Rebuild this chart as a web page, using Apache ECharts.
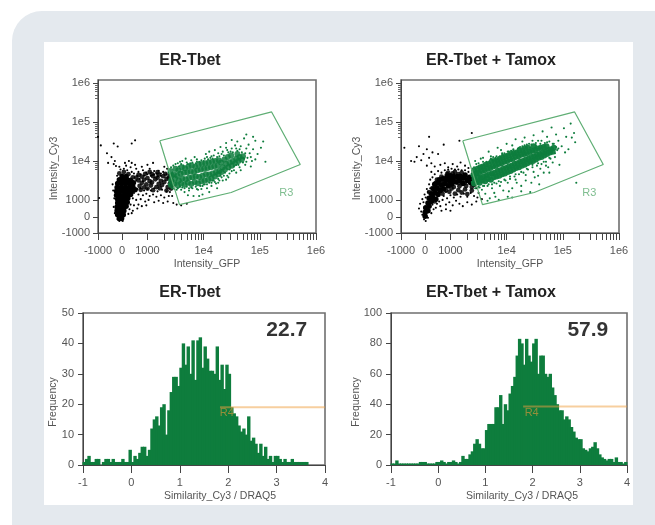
<!DOCTYPE html>
<html><head><meta charset="utf-8">
<script src="https://cdn.jsdelivr.net/npm/echarts@6/dist/echarts.min.js"></script>
<style>
html,body{margin:0;padding:0;background:#fff;width:655px;height:525px;overflow:hidden}
#bg{position:absolute;left:12px;top:11px;width:660px;height:530px;background:#e4e9ee;border-top-left-radius:30px}
#panel{position:absolute;left:44px;top:42px;width:589px;height:463px;background:#fff}
#c{position:absolute;left:0;top:0;width:655px;height:525px;filter:blur(0.4px)}
</style></head><body>
<div id="bg"></div><div id="panel"></div><div id="c"></div>
<script>
// Axis positions are in decades of the instrument's display scale (1000 = 3, 1e4 = 4 ...)
const scatterTickPos=[2.12,2.55,3,4,5,6];
const scatterTickLabels=['-1000','0','1000','1e4','1e5','1e6'];
const logMinor=[.30,.48,.60,.70,.78,.85,.90,.95];
const yMajorPos=[2.15,2.55,3,4,5,6];
const titles=['ER-Tbet','ER-Tbet + Tamox','ER-Tbet','ER-Tbet + Tamox'];
const gateR3=[[3.22,4.52],[5.21,5.26],[5.72,3.91],[4.49,3.19],[3.57,2.88],[3.22,4.52]];

const blackCoreA=[[2.50,2.52],[2.54,2.52],[2.47,2.62],[2.52,2.62],[2.57,2.62],[2.46,2.72],[2.52,2.72],[2.58,2.72],[2.46,2.82],[2.52,2.82],[2.58,2.82],[2.62,2.84],[2.47,2.92],[2.53,2.92],[2.60,2.92],[2.64,2.94],[2.47,3.02],[2.53,3.02],[2.59,3.02],[2.65,3.04],[2.45,3.12],[2.51,3.12],[2.58,3.12],[2.64,3.12],[2.70,3.14],[2.45,3.22],[2.52,3.22],[2.58,3.22],[2.65,3.22],[2.72,3.24],[2.78,3.26],[2.46,3.32],[2.53,3.32],[2.60,3.32],[2.67,3.32],[2.74,3.34],[2.47,3.42],[2.54,3.42],[2.61,3.42],[2.68,3.42],[2.75,3.44],[2.50,3.52],[2.57,3.52],[2.64,3.52],[2.70,3.50],[2.55,3.60],[2.62,3.60]];
const blackBandA=[[2.88,3.26],[3.00,3.29],[3.10,3.25],[3.22,3.30],[3.34,3.24],[3.42,3.29],[2.86,3.36],[2.94,3.32],[3.06,3.37],[3.16,3.33],[3.26,3.38],[3.36,3.33],[3.44,3.37],[2.90,3.44],[2.98,3.40],[3.08,3.45],[3.20,3.41],[3.30,3.46],[3.40,3.42],[2.84,3.50],[2.94,3.52],[3.04,3.48],[3.14,3.53],[3.24,3.49],[3.34,3.54],[3.43,3.49],[2.80,3.57],[2.90,3.60],[3.00,3.56],[3.10,3.61],[3.18,3.57],[3.28,3.61],[3.38,3.57],[2.84,3.64],[2.96,3.67],[3.08,3.66],[3.20,3.65],[3.32,3.67],[3.40,3.63],[3.04,3.72],[3.18,3.71],[2.50,3.68],[2.58,3.72],[2.66,3.66],[2.74,3.58]];
const blackDotsA=[[2.12,4.62],[2.17,4.40],[2.40,4.45],[2.47,4.37],[2.78,4.53],[2.72,4.45],[2.28,4.20],[2.36,4.10],[2.30,3.95],[2.42,4.00],[2.50,3.85],[2.60,3.95],[2.67,4.00],[2.72,3.95],[2.80,3.80],[2.90,3.85],[3.00,3.90],[3.10,3.95],[3.20,3.75],[3.30,3.85],[3.35,3.80],[2.14,3.05],[2.40,3.92],[2.44,3.87],[2.62,3.88],[2.70,3.84],[2.78,3.90],[2.84,3.72],[2.92,3.76],[2.98,3.70],[3.04,3.80],[3.12,3.74],[3.16,3.68],[3.24,3.68],[3.28,3.72],[3.34,3.66],[2.82,3.62],[2.88,3.66],[2.94,3.62],[3.00,3.66],[3.06,3.62],[3.12,3.66],[3.18,3.60],[3.24,3.62],[2.80,3.50],[2.86,3.54],[2.92,3.48],[2.82,3.28],[2.88,3.30],[2.94,3.24],[3.00,3.28],[3.06,3.24],[3.12,3.30],[3.18,3.22],[3.26,3.26],[3.34,3.22],[3.40,3.20],[2.76,3.18],[2.84,3.14],[2.92,3.12],[2.98,3.16],[3.04,3.10],[3.10,3.14],[3.16,3.08],[3.24,3.12],[3.30,3.06],[3.38,3.10],[2.74,3.04],[2.80,3.00],[2.88,3.02],[2.96,2.96],[3.02,3.00],[3.12,2.94],[3.20,2.98],[3.28,2.92],[3.36,2.96],[3.46,2.92],[3.52,2.88],[3.60,2.86],[3.70,2.90],[3.44,3.10],[2.70,2.88],[2.76,2.86],[2.84,2.88],[2.90,2.84],[2.98,2.86],[2.68,2.76],[2.74,2.72],[2.82,2.78],[2.66,2.64],[2.72,2.66],[2.42,2.66],[2.40,2.82],[2.41,3.04],[2.39,3.24],[2.38,3.40],[2.46,3.62],[2.52,3.78],[2.58,3.80],[2.64,3.76],[2.72,3.72],[2.76,3.68],[2.50,2.46],[2.56,2.46],[2.47,2.50]];
const greenCoreA=[[3.42,3.38],[3.42,3.50],[3.43,3.63],[3.41,3.74],[3.48,3.42],[3.49,3.55],[3.47,3.66],[3.50,3.80],[3.54,3.37],[3.56,3.50],[3.53,3.62],[3.55,3.76],[3.60,3.42],[3.62,3.55],[3.59,3.68],[3.61,3.84],[3.66,3.39],[3.68,3.53],[3.65,3.70],[3.67,3.81],[3.72,3.44],[3.74,3.57],[3.71,3.71],[3.73,3.86],[3.78,3.41],[3.80,3.58],[3.77,3.73],[3.79,3.88],[3.84,3.46],[3.86,3.60],[3.83,3.72],[3.85,3.85],[3.90,3.43],[3.92,3.59],[3.89,3.76],[3.91,3.90],[3.96,3.48],[3.98,3.62],[3.95,3.78],[3.97,3.92],[4.02,3.50],[4.04,3.66],[4.01,3.80],[4.03,3.94],[4.08,3.52],[4.10,3.65],[4.07,3.82],[4.09,3.96],[4.14,3.55],[4.16,3.68],[4.13,3.84],[4.15,3.98],[4.20,3.60],[4.22,3.72],[4.19,3.86],[4.21,4.00],[4.26,3.66],[4.28,3.74],[4.25,3.88],[4.27,4.02],[4.32,3.72],[4.34,3.84],[4.31,3.96],[4.38,3.78],[4.40,3.92],[4.37,4.04],[4.44,3.84],[4.46,3.96],[4.43,4.10],[4.50,3.88],[4.52,4.00],[4.49,4.14],[4.56,3.94],[4.58,4.06],[4.62,4.00],[4.64,4.10],[4.60,4.18],[4.68,4.04],[4.70,4.12]];
const greenDotsA=[[3.38,3.40],[3.40,3.52],[3.38,3.70],[3.42,3.84],[3.45,3.30],[3.48,3.28],[3.50,3.44],[3.50,3.92],[3.54,3.30],[3.56,3.86],[3.58,3.98],[3.62,3.32],[3.64,3.88],[3.66,3.20],[3.68,4.06],[3.70,3.34],[3.72,3.92],[3.74,3.24],[3.76,3.94],[3.78,3.32],[3.80,3.96],[3.82,3.10],[3.84,4.10],[3.86,3.34],[3.88,3.98],[3.90,3.26],[3.92,3.98],[3.94,3.36],[3.96,4.02],[3.98,3.14],[4.00,4.00],[4.02,3.40],[4.04,4.18],[4.06,3.30],[4.08,4.04],[4.10,3.44],[4.12,4.08],[4.14,3.36],[4.16,4.06],[4.18,3.50],[4.20,4.28],[4.22,3.42],[4.24,4.10],[4.26,3.54],[4.28,4.12],[4.30,3.62],[4.32,4.18],[4.34,3.50],[4.36,4.14],[4.38,3.70],[4.40,4.34],[4.42,3.62],[4.44,4.22],[4.46,3.78],[4.48,4.24],[4.50,3.74],[4.52,4.22],[4.54,3.86],[4.56,4.40],[4.58,3.90],[4.60,4.26],[4.62,3.90],[4.64,4.30],[4.66,3.76],[4.68,4.22],[4.70,3.96],[4.72,4.58],[4.74,4.20],[4.78,4.08],[4.80,4.42],[4.84,3.86],[4.88,4.30],[4.92,4.52],[4.96,4.18],[5.02,4.34],[5.06,4.50],[5.10,3.98],[4.72,4.06],[4.76,3.98],[4.00,3.40],[4.14,3.44],[3.74,3.30],[3.60,3.26],[4.20,3.46],[4.28,3.50],[4.32,3.58],[4.40,3.52],[3.96,3.28],[4.10,3.20],[3.92,3.10],[3.72,3.12],[4.60,4.50],[4.50,4.54],[4.76,4.68],[4.40,4.46],[4.88,4.62],[4.30,4.36],[4.10,4.24],[3.88,4.04],[3.62,4.00],[4.24,3.30],[4.44,3.58],[4.58,3.70],[4.84,4.10],[4.92,4.04],[3.44,3.30],[3.52,3.26],[3.58,3.34],[3.66,3.30],[3.80,3.30],[3.88,3.28],[3.46,3.88],[3.54,3.94],[3.60,3.92],[3.70,3.96],[3.78,4.02],[3.86,3.94],[3.94,3.96],[4.02,4.06],[4.06,4.10],[4.14,4.12],[4.18,4.14],[4.26,4.20],[4.34,4.24],[4.42,4.28],[4.50,4.32],[4.58,4.32],[4.66,4.38],[4.76,4.32],[4.82,4.20],[4.86,4.00],[4.74,3.90],[4.64,3.84],[4.54,3.76],[4.46,3.68],[4.36,3.62],[4.26,3.44],[4.16,3.50],[4.06,3.40],[3.98,3.36]];

const blackCoreB=[[2.55,2.58],[2.55,2.68],[2.60,2.72],[2.56,2.80],[2.62,2.84],[2.60,2.92],[2.66,2.96],[2.62,3.04],[2.68,3.08],[2.74,3.02],[2.66,3.16],[2.72,3.18],[2.78,3.14],[2.70,3.28],[2.76,3.30],[2.82,3.24],[2.88,3.28],[2.72,3.40],[2.78,3.44],[2.84,3.38],[2.90,3.42],[2.96,3.36],[3.02,3.40],[2.80,3.52],[2.86,3.54],[2.92,3.52],[2.98,3.50],[3.04,3.52],[3.10,3.46],[3.16,3.50],[3.22,3.42],[2.94,3.60],[3.00,3.62],[3.06,3.60],[3.12,3.60],[3.18,3.60],[3.24,3.56],[3.30,3.50],[3.36,3.44],[3.42,3.40],[3.26,3.64],[3.34,3.58],[3.40,3.50],[3.44,3.46]];
const blackBandB=[[2.76,3.20],[2.86,3.16],[2.98,3.21],[3.08,3.16],[3.20,3.19],[3.30,3.15],[2.80,3.28],[2.92,3.25],[3.02,3.29],[3.14,3.25],[3.26,3.27],[3.38,3.24],[2.76,3.36],[2.86,3.33],[2.96,3.37],[3.06,3.33],[3.16,3.35],[3.28,3.36],[3.38,3.33],[2.74,3.44],[2.84,3.46],[2.94,3.45],[3.04,3.44],[3.14,3.43],[3.26,3.44],[3.36,3.44],[2.76,3.52],[2.88,3.56],[2.98,3.53],[3.08,3.52],[3.20,3.51],[3.32,3.52],[2.84,3.60],[2.94,3.66],[3.04,3.68],[3.14,3.66],[3.26,3.59],[2.96,3.70],[3.08,3.72],[3.20,3.70],[2.62,3.20],[2.68,3.30],[2.66,3.02],[2.72,2.96]];
const blackDotsB=[[2.08,4.80],[2.62,4.62],[3.38,4.72],[2.88,4.42],[3.16,4.52],[2.44,4.38],[2.58,4.30],[2.52,4.18],[2.68,4.22],[2.18,4.34],[2.40,4.10],[2.48,4.02],[2.62,4.08],[2.78,4.18],[2.30,4.00],[2.36,3.98],[2.58,3.88],[2.66,3.94],[2.72,3.86],[2.82,3.90],[2.90,3.94],[2.96,3.84],[3.04,3.92],[3.12,3.86],[3.18,3.96],[3.26,3.88],[3.32,3.82],[2.66,3.72],[2.72,3.66],[2.78,3.74],[2.84,3.70],[2.90,3.76],[2.96,3.78],[3.02,3.80],[3.08,3.78],[3.14,3.78],[3.20,3.76],[3.26,3.76],[3.32,3.72],[3.38,3.68],[2.64,3.52],[2.68,3.58],[2.62,3.40],[2.58,3.28],[2.54,3.14],[2.50,3.02],[2.46,2.90],[2.44,2.78],[2.52,2.94],[2.56,3.06],[2.60,3.20],[2.64,3.30],[2.48,2.70],[2.50,2.62],[2.53,2.50],[2.56,2.46],[2.60,2.54],[2.66,2.66],[2.70,2.76],[2.68,2.88],[2.76,2.90],[2.74,2.80],[2.82,2.84],[2.80,2.96],[2.86,3.00],[2.92,2.88],[2.98,2.94],[3.04,2.86],[3.10,2.98],[3.16,2.90],[3.22,2.84],[3.30,2.94],[3.38,2.88],[3.46,2.96],[2.88,3.10],[2.94,3.04],[3.00,3.12],[3.06,3.06],[3.12,3.14],[3.18,3.08],[3.24,3.16],[3.30,3.08],[3.36,3.18],[3.42,3.10],[3.48,3.06],[2.92,3.20],[3.50,3.18],[3.46,3.30],[2.84,2.72],[2.92,2.76],[3.00,2.72],[3.56,3.02]];
const greenCoreB=[[3.42,3.42],[3.43,3.54],[3.41,3.64],[3.42,3.76],[3.47,3.46],[3.49,3.58],[3.46,3.68],[3.48,3.80],[3.52,3.44],[3.54,3.56],[3.51,3.70],[3.53,3.84],[3.57,3.50],[3.59,3.60],[3.56,3.74],[3.58,3.86],[3.62,3.48],[3.64,3.62],[3.61,3.76],[3.63,3.90],[3.67,3.54],[3.69,3.66],[3.66,3.80],[3.68,3.92],[3.72,3.52],[3.74,3.68],[3.71,3.82],[3.73,3.98],[3.77,3.58],[3.79,3.70],[3.76,3.86],[3.78,4.00],[3.82,3.60],[3.84,3.74],[3.81,3.88],[3.83,4.02],[3.87,3.62],[3.89,3.76],[3.86,3.92],[3.88,4.06],[3.92,3.66],[3.94,3.80],[3.91,3.94],[3.93,4.08],[3.97,3.68],[3.99,3.82],[3.96,3.98],[3.98,4.12],[4.02,3.72],[4.04,3.86],[4.01,4.00],[4.03,4.14],[4.07,3.74],[4.09,3.88],[4.06,4.04],[4.08,4.18],[4.12,3.78],[4.14,3.92],[4.11,4.06],[4.13,4.20],[4.17,3.82],[4.19,3.94],[4.16,4.10],[4.18,4.22],[4.22,3.84],[4.24,3.98],[4.21,4.12],[4.23,4.26],[4.27,3.88],[4.29,4.00],[4.26,4.16],[4.28,4.28],[4.32,3.90],[4.34,4.04],[4.31,4.18],[4.33,4.32],[4.37,3.94],[4.39,4.06],[4.36,4.20],[4.38,4.34],[4.42,3.98],[4.44,4.10],[4.41,4.24],[4.47,4.00],[4.49,4.12],[4.46,4.26],[4.48,4.38],[4.52,4.04],[4.54,4.16],[4.51,4.28],[4.57,4.08],[4.59,4.18],[4.56,4.32],[4.62,4.10],[4.64,4.22],[4.61,4.34],[4.67,4.14],[4.69,4.24],[4.66,4.36],[4.72,4.18],[4.74,4.28],[4.71,4.38],[4.77,4.22],[4.79,4.30],[4.82,4.24],[4.84,4.34]];
const greenDotsB=[[3.38,3.46],[3.40,3.66],[3.42,3.84],[3.44,3.30],[3.46,3.92],[3.48,3.30],[3.50,3.94],[3.52,3.32],[3.54,4.06],[3.56,3.26],[3.58,3.98],[3.60,3.36],[3.62,3.16],[3.64,3.98],[3.66,3.36],[3.68,4.24],[3.70,3.04],[3.72,4.06],[3.74,3.40],[3.76,4.10],[3.78,3.18],[3.80,4.08],[3.82,3.42],[3.84,4.34],[3.86,3.00],[3.88,4.12],[3.90,3.46],[3.92,4.20],[3.94,3.24],[3.96,4.20],[3.98,3.50],[4.00,4.44],[4.02,3.08],[4.04,4.24],[4.06,3.54],[4.08,4.26],[4.10,3.30],[4.12,4.28],[4.14,3.60],[4.16,4.56],[4.18,3.44],[4.20,4.32],[4.22,3.66],[4.24,4.36],[4.26,3.36],[4.28,4.38],[4.30,3.70],[4.32,4.60],[4.34,3.50],[4.36,4.42],[4.38,3.78],[4.40,4.44],[4.42,3.20],[4.44,4.42],[4.46,3.84],[4.48,4.66],[4.50,3.58],[4.52,4.46],[4.54,3.88],[4.56,4.52],[4.58,3.40],[4.60,4.44],[4.62,3.92],[4.64,4.76],[4.66,3.70],[4.68,4.46],[4.70,3.98],[4.72,4.62],[4.74,3.84],[4.76,4.50],[4.78,4.06],[4.80,4.86],[4.82,3.96],[4.84,4.44],[4.86,4.10],[4.88,4.68],[4.90,4.28],[4.92,4.52],[4.94,3.90],[4.98,4.38],[5.02,4.84],[5.04,4.22],[5.06,4.62],[5.10,4.30],[5.14,4.96],[5.16,4.60],[5.20,4.72],[5.22,4.48],[4.88,4.36],[3.74,3.30],[3.88,3.36],[4.02,3.44],[4.16,3.52],[4.34,3.64],[4.48,3.72],[4.60,3.80],[4.70,3.88],[3.90,4.28],[4.10,4.40],[4.28,4.50],[4.46,4.52],[3.72,4.12],[3.58,4.08],[3.44,4.00],[4.26,3.22],[4.04,3.22],[3.80,3.08],[3.66,2.98],[4.10,3.06],[4.44,3.44],[4.56,3.62],[4.76,3.70],[5.24,3.44],[3.50,3.34],[3.58,3.36],[3.68,3.40],[3.78,3.44],[3.86,3.48],[3.96,3.52],[4.06,3.60],[4.16,3.66],[4.26,3.72],[4.36,3.80],[4.46,3.90],[4.56,3.94],[4.66,3.98],[4.76,4.08],[4.86,4.20],[4.92,4.32],[4.82,4.44],[4.72,4.48],[4.62,4.52],[4.52,4.40],[4.42,4.34],[4.32,4.40],[4.22,4.34],[4.12,4.30],[4.02,4.24],[3.92,4.16],[3.82,4.12],[3.74,4.04]];

const histBins=[-1,-.95,-.9,-.85,-.8,-.75,-.7,-.65,-.6,-.55,-.5,-.45,-.4,-.35,-.3,-.25,-.2,-.15,-.1,-.05,0,.05,.1,.15,.2,.25,.3,.35,.4,.45,.5,.55,.6,.65,.7,.75,.8,.85,.9,.95,1,1.05,1.1,1.15,1.2,1.25,1.3,1.35,1.4,1.45,1.5,1.55,1.6,1.65,1.7,1.75,1.8,1.85,1.9,1.95,2,2.05,2.1,2.15,2.2,2.25,2.3,2.35,2.4,2.45,2.5,2.55,2.6,2.65,2.7,2.75,2.8,2.85,2.9,2.95,3,3.05,3.1,3.15,3.2,3.25,3.3,3.35,3.4,3.45,3.5,3.55,3.6,3.65,3.7,3.75,3.8,3.85,3.9,3.95];
const histLeft=[1,2,3,1,1,2,2,0,1,2,2,1,2,1,1,1,2,1,1,5,1,3,2,4,6,6,3,5,12,15,16,13,19,20,10,18,24,29,29,26,32,40,33,39,30,41,28,41,42,32,39,35,31,31,30,39,28,33,25,33,30,19,17,16,13,11,12,10,16,8,9,7,4,7,3,6,2,3,1,3,3,2,1,2,1,1,2,1,1,1,1,1,1,0,0,0,0,0,0,0];
const histRight=[1,1,3,1,1,1,1,1,1,1,1,1,2,2,2,1,1,1,1,2,2,3,2,1,2,2,3,2,1,2,6,4,4,7,9,14,17,14,11,11,23,27,27,27,38,38,46,27,40,36,47,52,58,72,83,80,66,83,72,68,80,83,60,72,72,60,58,60,51,46,40,36,36,30,32,30,25,22,18,17,17,11,10,9,11,12,15,11,7,5,4,3,4,4,2,5,2,2,1,2];
const gateR4Left=[[1.83,19],[4,19]];
const gateR4Right=[[1.8,38.5],[4,38.5]];
const scoreLabels=['22.7','57.9'];

const GREY='#555',FRAME='#6f6f6f',GREEN='#0e7d3d',GATE='#5fae74';
const font='"Liberation Sans",Arial,sans-serif';
const grids=[
 {left:98,top:80,width:218,height:153},
 {left:401,top:80,width:218,height:153},
 {left:83,top:313,width:242,height:152},
 {left:391,top:313,width:236,height:152}
].map(g=>Object.assign(g,{show:true,backgroundColor:'transparent',borderColor:FRAME,borderWidth:1.6}));
const xAxes=[],yAxes=[],series=[];
const lbl={color:GREY,fontSize:11,fontFamily:font};
const nameStyle=pad=>({color:GREY,fontSize:10.5,fontFamily:font,padding:pad});
const xMinor=[];[3,4,5].forEach(d=>{xMinor.push(d);logMinor.forEach(m=>xMinor.push(d+m));});
const xTicks=[2.12,2.55].concat(xMinor,[6]);
const yMinor=[];[3,4,5].forEach(d=>logMinor.forEach(m=>{if(m>=(d==3?.78:.6))yMinor.push(d+m);}));

function scatterPanel(i,core,band,dots,green,gcore,gOpacity){
 xAxes.push({type:'value',gridIndex:i,position:'bottom',min:2.12,max:6,name:'Intensity_GFP',nameLocation:'middle',nameGap:26,nameTextStyle:nameStyle([0,0,0,0]),
  axisLine:{show:true,lineStyle:{color:'#444',width:1},onZero:false},splitLine:{show:false},
  axisTick:{show:true,length:7,lineStyle:{color:'#444'},customValues:xTicks},
  axisLabel:Object.assign({},lbl,{margin:12,customValues:scatterTickPos,formatter:v=>scatterTickLabels[scatterTickPos.indexOf(v)]})});
 const yi=yAxes.length;
 yAxes.push({type:'value',gridIndex:i,position:'left',min:2.15,max:6.08,name:'Intensity_Cy3',nameLocation:'middle',nameGap:38,nameMoveOverlap:false,nameTextStyle:nameStyle([0,24,0,0]),
  axisLine:{show:true,lineStyle:{color:'#444',width:1},onZero:false},splitLine:{show:false},
  axisTick:{show:true,length:5,lineStyle:{color:'#444'},customValues:yMajorPos},
  axisLabel:Object.assign({},lbl,{margin:8,customValues:yMajorPos,formatter:v=>scatterTickLabels[yMajorPos.indexOf(v)]})});
 yAxes.push({type:'value',gridIndex:i,position:'left',offset:0,min:2.15,max:6.08,axisLine:{show:false,onZero:false},splitLine:{show:false},axisLabel:{show:false},
  axisTick:{show:true,length:3,lineStyle:{color:'#666'},customValues:yMinor}});
 const sc=(d,size,color,op)=>series.push({type:'scatter',xAxisIndex:i,yAxisIndex:yi,data:d,symbolSize:size,itemStyle:{color,opacity:op},silent:true,animation:false});
 sc(core,5.5,'#000',1);
 sc(band,4.8,'#000',.85);
 sc(dots,2.1,'#000',1);
 sc(gcore,6,GREEN,gOpacity);
 sc(green,2.1,GREEN,1);
 series.push({type:'line',xAxisIndex:i,yAxisIndex:yi,data:gateR3,showSymbol:false,lineStyle:{color:GATE,width:1.2},silent:true,animation:false});
 series.push({type:'scatter',xAxisIndex:i,yAxisIndex:yi,data:[[5.47,3.19]],symbolSize:0,silent:true,animation:false,
  label:{show:true,formatter:'R3',position:'inside',color:GATE,fontSize:11,fontFamily:font}});
}
function histPanel(i,vals,ymax,step,gate,score,scoreX,r4Pos){
 xAxes.push({type:'value',gridIndex:i,position:'bottom',min:-1,max:4,interval:1,name:'Similarity_Cy3 / DRAQ5',nameLocation:'middle',nameGap:26,nameTextStyle:nameStyle(i==2?[0,0,0,32]:[0,0,0,26]),
  axisLine:{show:true,lineStyle:{color:'#444',width:1},onZero:false},splitLine:{show:false},
  axisTick:{show:true,length:8,lineStyle:{color:'#444'}},axisLabel:Object.assign({},lbl,{margin:12})});
 const yi=yAxes.length;
 yAxes.push({type:'value',gridIndex:i,position:'left',min:0,max:ymax,interval:step,name:'Frequency',nameLocation:'middle',nameGap:i==2?24:29,nameMoveOverlap:false,nameTextStyle:nameStyle([0,26,0,0]),
  axisLine:{show:true,lineStyle:{color:'#444',width:1},onZero:false},splitLine:{show:false},
  axisTick:{show:true,length:5,lineStyle:{color:'#444'}},axisLabel:Object.assign({},lbl,{margin:9})});
 series.push({type:'bar',xAxisIndex:i,yAxisIndex:yi,data:histBins.map((b,k)=>[b+.025,vals[k]]),barWidth:3.4,itemStyle:{color:GREEN},silent:true,animation:false});
 series.push({type:'line',xAxisIndex:i,yAxisIndex:yi,data:gate,showSymbol:false,lineStyle:{color:'#f0a040',width:1.8,opacity:.5},silent:true,animation:false,z:5});
 series.push({type:'scatter',xAxisIndex:i,yAxisIndex:yi,data:[r4Pos],symbolSize:0,silent:true,animation:false,z:6,
  label:{show:true,formatter:'R4',position:'inside',color:'#b8923a',fontSize:11,fontFamily:font}});
 series.push({type:'scatter',xAxisIndex:i,yAxisIndex:yi,data:[[scoreX,ymax*.885]],symbolSize:0,silent:true,animation:false,z:7,
  label:{show:true,formatter:score,position:'inside',color:'#000',fontSize:21,fontWeight:'bold',fontFamily:font}});
}
scatterPanel(0,blackCoreA,blackBandA,blackDotsA,greenDotsA,greenCoreA,.85);
scatterPanel(1,blackCoreB,blackBandB,blackDotsB,greenDotsB,greenCoreB,.95);
histPanel(2,histLeft,50,10,gateR4Left,scoreLabels[0],3.21,[1.97,17]);
histPanel(3,histRight,100,20,gateR4Right,scoreLabels[1],3.17,[1.98,34.5]);
const centers=[[190,53],[491,53],[190,285],[491,285]];
const chart=echarts.init(document.getElementById('c'));
chart.setOption({animation:false,backgroundColor:'transparent',
 title:titles.map((t,i)=>({text:t,left:centers[i][0],top:centers[i][1],textAlign:'center',padding:0,
   textStyle:{fontSize:16,fontWeight:'bold',color:'#222',fontFamily:font}})),
 grid:grids,xAxis:xAxes,yAxis:yAxes,series});
</script></body></html>
